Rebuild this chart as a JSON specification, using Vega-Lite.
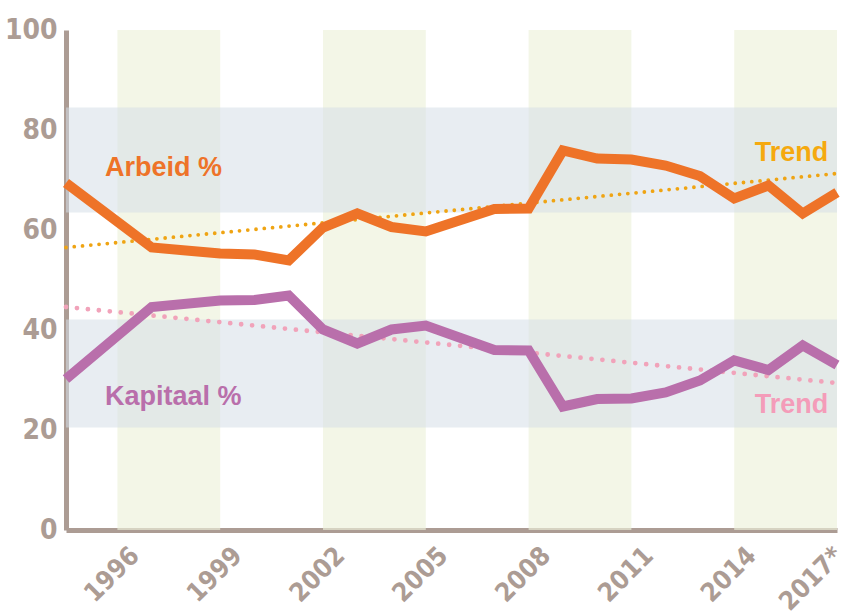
{
  "$schema": "https://vega.github.io/schema/vega-lite/v6.json",
  "width": 771,
  "height": 500,
  "autosize": {"type": "none"},
  "padding": {"left": 66, "top": 30, "right": 8, "bottom": 84},
  "background": "white",
  "config": {"view": {"stroke": null}},
  "datasets": {
    "vbands": [
      {"jaar": 1996, "jaar2": 1999},
      {"jaar": 2002, "jaar2": 2005},
      {"jaar": 2008, "jaar2": 2011},
      {"jaar": 2014, "jaar2": 2017}
    ],
    "hbands": [
      {"pct": 63.5, "pct2": 84.5},
      {"pct": 20.5, "pct2": 42.1}
    ],
    "series": [
      {"jaar": 1994.5, "reeks": "Arbeid", "pct": 69.4},
      {"jaar": 1997, "reeks": "Arbeid", "pct": 56.5},
      {"jaar": 1999, "reeks": "Arbeid", "pct": 55.3},
      {"jaar": 2000, "reeks": "Arbeid", "pct": 55.1},
      {"jaar": 2001, "reeks": "Arbeid", "pct": 53.9},
      {"jaar": 2002, "reeks": "Arbeid", "pct": 60.5},
      {"jaar": 2003, "reeks": "Arbeid", "pct": 63.3},
      {"jaar": 2004, "reeks": "Arbeid", "pct": 60.6},
      {"jaar": 2005, "reeks": "Arbeid", "pct": 59.7},
      {"jaar": 2007, "reeks": "Arbeid", "pct": 64.2},
      {"jaar": 2008, "reeks": "Arbeid", "pct": 64.3},
      {"jaar": 2009, "reeks": "Arbeid", "pct": 75.9},
      {"jaar": 2010, "reeks": "Arbeid", "pct": 74.3},
      {"jaar": 2011, "reeks": "Arbeid", "pct": 74.1},
      {"jaar": 2012, "reeks": "Arbeid", "pct": 72.9},
      {"jaar": 2013, "reeks": "Arbeid", "pct": 70.8},
      {"jaar": 2014, "reeks": "Arbeid", "pct": 66.3},
      {"jaar": 2015, "reeks": "Arbeid", "pct": 68.9},
      {"jaar": 2016, "reeks": "Arbeid", "pct": 63.3},
      {"jaar": 2017, "reeks": "Arbeid", "pct": 67.5},
      {"jaar": 1994.5, "reeks": "Kapitaal", "pct": 30.2},
      {"jaar": 1997, "reeks": "Kapitaal", "pct": 44.6},
      {"jaar": 1999, "reeks": "Kapitaal", "pct": 45.9},
      {"jaar": 2000, "reeks": "Kapitaal", "pct": 46.0},
      {"jaar": 2001, "reeks": "Kapitaal", "pct": 46.9},
      {"jaar": 2002, "reeks": "Kapitaal", "pct": 40.1},
      {"jaar": 2003, "reeks": "Kapitaal", "pct": 37.3},
      {"jaar": 2004, "reeks": "Kapitaal", "pct": 40.1},
      {"jaar": 2005, "reeks": "Kapitaal", "pct": 40.9},
      {"jaar": 2007, "reeks": "Kapitaal", "pct": 36.0},
      {"jaar": 2008, "reeks": "Kapitaal", "pct": 35.9},
      {"jaar": 2009, "reeks": "Kapitaal", "pct": 24.7},
      {"jaar": 2010, "reeks": "Kapitaal", "pct": 26.2},
      {"jaar": 2011, "reeks": "Kapitaal", "pct": 26.3},
      {"jaar": 2012, "reeks": "Kapitaal", "pct": 27.5},
      {"jaar": 2013, "reeks": "Kapitaal", "pct": 29.9},
      {"jaar": 2014, "reeks": "Kapitaal", "pct": 33.9},
      {"jaar": 2015, "reeks": "Kapitaal", "pct": 32.0},
      {"jaar": 2016, "reeks": "Kapitaal", "pct": 36.9},
      {"jaar": 2017, "reeks": "Kapitaal", "pct": 33.0}
    ],
    "trendArbeid": [
      {"jaar": 1994.5, "pct": 56.5},
      {"jaar": 2017, "pct": 71.3}
    ],
    "trendKapitaal": [
      {"jaar": 1994.5, "pct": 44.6},
      {"jaar": 2017, "pct": 29.4}
    ],
    "labels": [
      {"jaar": 1995.64, "pct": 70.8, "tekst": "Arbeid %", "soort": "Arbeid"},
      {"jaar": 1995.64, "pct": 25.0, "tekst": "Kapitaal %", "soort": "Kapitaal"},
      {"jaar": 2014.6, "pct": 73.8, "tekst": "Trend", "soort": "TrendArbeid"},
      {"jaar": 2014.6, "pct": 23.4, "tekst": "Trend", "soort": "TrendKapitaal"}
    ]
  },
  "layer": [
    {
      "data": {"name": "vbands"},
      "mark": {"type": "rect", "color": "#EDF1DA", "opacity": 0.65},
      "encoding": {
        "x": {"field": "jaar", "type": "quantitative", "scale": {"domain": [1994.5, 2017], "nice": false, "zero": false}},
        "x2": {"field": "jaar2"}
      }
    },
    {
      "data": {"name": "hbands"},
      "mark": {"type": "rect", "color": "#D6DEE8", "opacity": 0.55},
      "encoding": {
        "y": {"field": "pct", "type": "quantitative", "scale": {"domain": [0, 100], "nice": false}},
        "y2": {"field": "pct2"}
      }
    },
    {
      "data": {"name": "trendArbeid"},
      "mark": {"type": "line", "color": "#EFA413", "strokeWidth": 3.8, "strokeCap": "round", "strokeDash": [0, 8.3]},
      "encoding": {
        "x": {"field": "jaar", "type": "quantitative"},
        "y": {"field": "pct", "type": "quantitative"}
      }
    },
    {
      "data": {"name": "trendKapitaal"},
      "mark": {"type": "line", "color": "#F1A3BA", "strokeWidth": 4.8, "strokeCap": "round", "strokeDash": [0, 11]},
      "encoding": {
        "x": {"field": "jaar", "type": "quantitative"},
        "y": {"field": "pct", "type": "quantitative"}
      }
    },
    {
      "data": {"name": "series"},
      "mark": {"type": "line", "strokeWidth": 10, "strokeJoin": "miter", "strokeCap": "butt"},
      "encoding": {
        "x": {
          "field": "jaar", "type": "quantitative",
          "scale": {"domain": [1994.5, 2017], "nice": false, "zero": false},
          "axis": {
            "title": null,
            "values": [1996, 1999, 2002, 2005, 2008, 2011, 2014, 2017],
            "labelExpr": "datum.value == 2017 ? '2017*' : '' + datum.value",
            "labelAngle": -45,
            "labelFont": "DejaVu Sans Condensed",
            "labelFontWeight": "bold",
            "labelFontSize": 26,
            "labelColor": "#AC9C94",
            "labelPadding": 12,
            "labelOffset": {"condition": {"test": "datum.value == 2017", "value": -8}, "value": 8},
            "labelOverlap": false,
            "labelBound": false,
            "labelFlush": false,
            "ticks": false,
            "grid": false,
            "domainColor": "#AC9C94",
            "domainWidth": 5
          }
        },
        "y": {
          "field": "pct", "type": "quantitative",
          "scale": {"domain": [0, 100], "nice": false},
          "axis": {
            "title": null,
            "values": [0, 20, 40, 60, 80, 100],
            "labelFont": "DejaVu Sans Condensed",
            "labelFontWeight": "bold",
            "labelFontSize": 28,
            "labelColor": "#AC9C94",
            "labelPadding": 9,
            "labelBound": false,
            "labelFlush": false,
            "labelOverlap": false,
            "ticks": false,
            "grid": false,
            "domainColor": "#AC9C94",
            "domainWidth": 5
          }
        },
        "color": {
          "field": "reeks", "type": "nominal",
          "scale": {"domain": ["Arbeid", "Kapitaal"], "range": ["#EE7328", "#B96FAB"]},
          "legend": null
        }
      }
    },
    {
      "data": {"name": "labels"},
      "mark": {"type": "text", "align": "left", "baseline": "alphabetic", "font": "Liberation Sans, Arial, sans-serif", "fontWeight": "bold"},
      "encoding": {
        "x": {"field": "jaar", "type": "quantitative"},
        "y": {"field": "pct", "type": "quantitative"},
        "text": {"field": "tekst"},
        "size": {
          "field": "soort", "type": "nominal",
          "scale": {"domain": ["Arbeid", "Kapitaal", "TrendArbeid", "TrendKapitaal"], "range": [27, 27, 23, 23]},
          "legend": null
        },
        "color": {
          "field": "soort", "type": "nominal",
          "scale": {"domain": ["Arbeid", "Kapitaal", "TrendArbeid", "TrendKapitaal"], "range": ["#EE7328", "#B96FAB", "#F5A90F", "#F49CB9"]},
          "legend": null
        }
      }
    }
  ],
  "resolve": {"scale": {"color": "independent", "size": "independent"}}
}
